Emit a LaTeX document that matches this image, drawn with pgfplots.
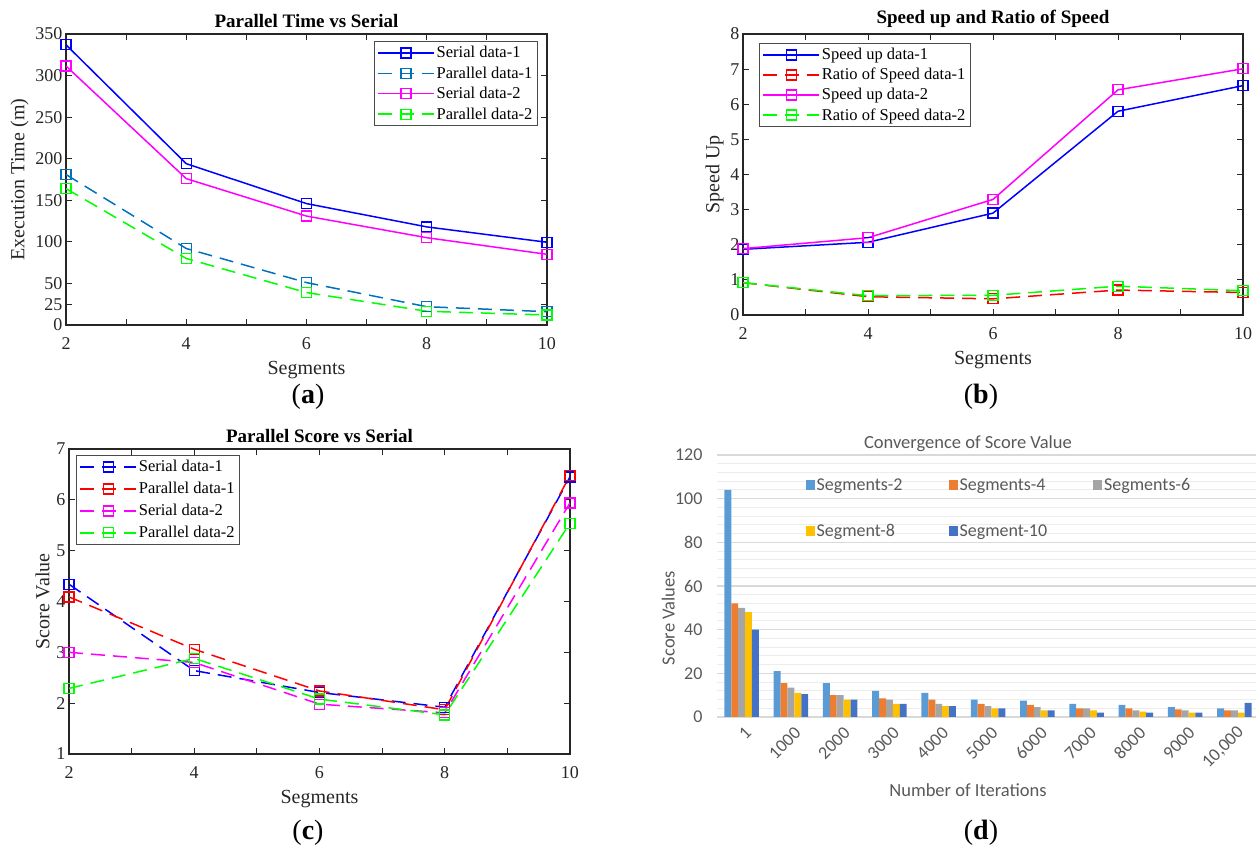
\documentclass[border=0pt]{standalone}
\usepackage{fontspec}
\setmainfont{Liberation Serif}
\newfontfamily\calibri{Carlito}
\usepackage{pgfplots}
\pgfplotsset{compat=1.18}

\definecolor{mblue}{RGB}{0,0,255}
\definecolor{mlblue}{RGB}{0,114,189}
\definecolor{mmag}{RGB}{255,0,255}
\definecolor{mgreen}{RGB}{0,255,0}
\definecolor{mred}{RGB}{255,0,0}
\definecolor{xla}{HTML}{5B9BD5}
\definecolor{xlb}{HTML}{ED7D31}
\definecolor{xlc}{HTML}{A5A5A5}
\definecolor{xld}{HTML}{FFC000}
\definecolor{xle}{HTML}{4472C4}
\definecolor{xltext}{HTML}{595959}
\definecolor{axc}{HTML}{262626}
\definecolor{gmaj}{HTML}{D9D9D9}
\definecolor{gmin}{HTML}{EDEDED}

\pgfplotsset{
  matlab/.style={
    scale only axis,
    axis line style={axc, line width=1.2pt},
    tick style={axc, line width=1pt},
    tick align=inside,
    major tick length=6pt, minor tick length=6pt,
    xmin=2, xmax=10,
    xtick={2,4,6,8,10}, minor xtick={3,5,7,9},
    /pgf/number format/assume math mode=true,
    ticklabel style={font=\fontsize{18}{20}\selectfont, text=axc},
    xticklabel style={yshift=-9pt},
    label style={font=\fontsize{20}{22}\selectfont, text=axc},
    xlabel style={yshift=-5pt},
    title style={font=\fontsize{19}{21}\selectfont\bfseries, yshift=-3pt},
    legend style={font=\fontsize{16.5}{18}\selectfont, draw=gray!60!black, line width=0.8pt, fill=white, inner sep=3pt},
    legend cell align=left,
    legend image code/.code={
      \draw[mark repeat=2, mark phase=2, ##1] plot coordinates {(0pt,0pt) (28pt,0pt) (56pt,0pt)};
    },
    every axis plot/.append style={line width=1.5pt, mark=square, mark size=5pt, mark options={solid, line width=1.3pt}},
    xlabel={Segments},
  },
  dsh/.style={dash pattern=on 14pt off 8pt},
  xlbar/.style={fill=#1, draw=none, legend image code/.code={\fill[#1] (0pt,-5pt) rectangle (9pt,5pt);}},
}

\begin{document}
\begin{tikzpicture}[x=1pt,y=1pt]
\useasboundingbox (0,0) rectangle (1256,853);

% ---------------- (a)
\begin{axis}[matlab, at={(66pt,528pt)}, anchor=south west, width=481pt, height=291pt,
  ymin=0, ymax=350, ytick={0,25,50,100,150,200,250,300,350},
  ylabel={Execution Time (m)}, title={Parallel Time vs Serial},
  legend style={at={(0.981,0.976)}, anchor=north east, row sep=3.5pt}]
\addplot[mblue] coordinates {(2,337) (4,194) (6,146) (8,118) (10,99.5)};
\addlegendentry{Serial data-1}
\addplot[mlblue, dsh] coordinates {(2,181) (4,92) (6,51) (8,22) (10,16)};
\addlegendentry{Parallel data-1}
\addplot[mmag] coordinates {(2,311.5) (4,176) (6,131) (8,105) (10,85)};
\addlegendentry{Serial data-2}
\addplot[mgreen, dsh] coordinates {(2,164) (4,80) (6,39) (8,16.5) (10,12)};
\addlegendentry{Parallel data-2}
\end{axis}

% ---------------- (b)
\begin{axis}[matlab, at={(743pt,538pt)}, anchor=south west, width=500pt, height=281pt,
  ymin=0, ymax=8, ytick={0,1,...,8},
  ylabel={Speed Up}, title={Speed up and Ratio of Speed},
  legend style={at={(0.032,0.968)}, anchor=north west, row sep=3pt}]
\addplot[mblue] coordinates {(2,1.87) (4,2.07) (6,2.90) (8,5.80) (10,6.53)};
\addlegendentry{Speed up data-1}
\addplot[mred, dsh] coordinates {(2,0.92) (4,0.52) (6,0.46) (8,0.71) (10,0.64)};
\addlegendentry{Ratio of Speed data-1}
\addplot[mmag] coordinates {(2,1.89) (4,2.20) (6,3.29) (8,6.41) (10,7.01)};
\addlegendentry{Speed up data-2}
\addplot[mgreen, dsh] coordinates {(2,0.92) (4,0.55) (6,0.56) (8,0.82) (10,0.69)};
\addlegendentry{Ratio of Speed data-2}
\end{axis}

% ---------------- (c)
\begin{axis}[matlab, at={(69pt,99pt)}, anchor=south west, width=501pt, height=305pt,
  ymin=1, ymax=7, ytick={1,2,...,7},
  ylabel={Score Value}, title={Parallel Score vs Serial},
  legend style={at={(0.014,0.980)}, anchor=north west, row sep=5pt}]
\addplot[mblue, dsh] coordinates {(2,4.34) (4,2.64) (6,2.21) (8,1.92) (10,6.45)};
\addlegendentry{Serial data-1}
\addplot[mred, dsh] coordinates {(2,4.09) (4,3.06) (6,2.24) (8,1.87) (10,6.48)};
\addlegendentry{Parallel data-1}
\addplot[mmag, dsh] coordinates {(2,3.00) (4,2.80) (6,1.98) (8,1.81) (10,5.94)};
\addlegendentry{Serial data-2}
\addplot[mgreen, dsh] coordinates {(2,2.29) (4,2.88) (6,2.08) (8,1.77) (10,5.54)};
\addlegendentry{Parallel data-2}
\end{axis}

% ---------------- (d)
\begin{axis}[scale only axis, at={(717pt,136pt)}, anchor=south west, width=542pt, height=262pt,
  ybar=0pt, bar width=6.9pt,
  xmin=-0.5, xmax=10.5, ymin=0, ymax=120,
  ytick={0,20,...,120}, minor y tick num=4,
  xtick={0,1,...,10},
  xticklabels={1,1000,2000,3000,4000,5000,6000,7000,8000,9000,{10,000}},
  ymajorgrids, yminorgrids,
  major grid style={gmaj, line width=1.3pt},
  minor grid style={gmin, line width=0.9pt},
  axis line style={draw=none}, tick style={draw=none},
  /pgf/number format/assume math mode=true,
  ticklabel style={font=\calibri\fontsize{18}{20}\selectfont, text=xltext},
  yticklabel style={xshift=-11pt},
  xticklabel style={rotate=45, anchor=east, yshift=-11pt, xshift=2pt},
  title={Convergence of Score Value},
  title style={font=\calibri\fontsize{18.5}{20}\selectfont, text=xltext, at={(axis description cs:0.463,1)}, yshift=-6pt},
  xlabel={Number of Iterations},
  xlabel style={font=\calibri\fontsize{18.5}{20}\selectfont, text=xltext, at={(axis description cs:0.463,-0.279)}, anchor=center},
  ylabel={Score Values},
  ylabel style={font=\calibri\fontsize{18.5}{20}\selectfont, text=xltext, at={(axis description cs:-0.090,0.378)}, anchor=center, rotate=0},
  legend columns=3,
  legend style={at={(0.163,0.919)}, anchor=north west, draw=none, fill=none, inner sep=0pt,
    font=\calibri\fontsize{18}{20}\selectfont, text=xltext,
    /tikz/every even column/.append style={column sep=44pt}, row sep=28pt},
  legend cell align=left,
]
\addplot[xlbar=xla] coordinates {(0,104) (1,21) (2,15.5) (3,12) (4,11) (5,8) (6,7.5) (7,6) (8,5.5) (9,4.5) (10,4)};
\addlegendentry{Segments-2}
\addplot[xlbar=xlb] coordinates {(0,52) (1,15.5) (2,10) (3,8.5) (4,8) (5,6) (6,5.5) (7,4) (8,4) (9,3.5) (10,3)};
\addlegendentry{Segments-4}
\addplot[xlbar=xlc] coordinates {(0,50) (1,13.5) (2,10) (3,8) (4,6) (5,5) (6,4.5) (7,4) (8,3) (9,3) (10,3)};
\addlegendentry{Segments-6}
\addplot[xlbar=xld] coordinates {(0,48) (1,11) (2,8) (3,6) (4,5) (5,4) (6,3) (7,3) (8,2.5) (9,2) (10,2)};
\addlegendentry{Segment-8}
\addplot[xlbar=xle] coordinates {(0,40) (1,10.5) (2,8) (3,6) (4,5) (5,4) (6,3) (7,2) (8,2) (9,2) (10,6.5)};
\addlegendentry{Segment-10}
\end{axis}

% panel letters
\node[font=\fontsize{28}{30}\selectfont] at (308,456) {(\textbf{a})};
\node[font=\fontsize{28}{30}\selectfont] at (981,456) {(\textbf{b})};
\node[font=\fontsize{28}{30}\selectfont] at (308,20) {(\textbf{c})};
\node[font=\fontsize{28}{30}\selectfont] at (981,20) {(\textbf{d})};
\end{tikzpicture}
\end{document}
